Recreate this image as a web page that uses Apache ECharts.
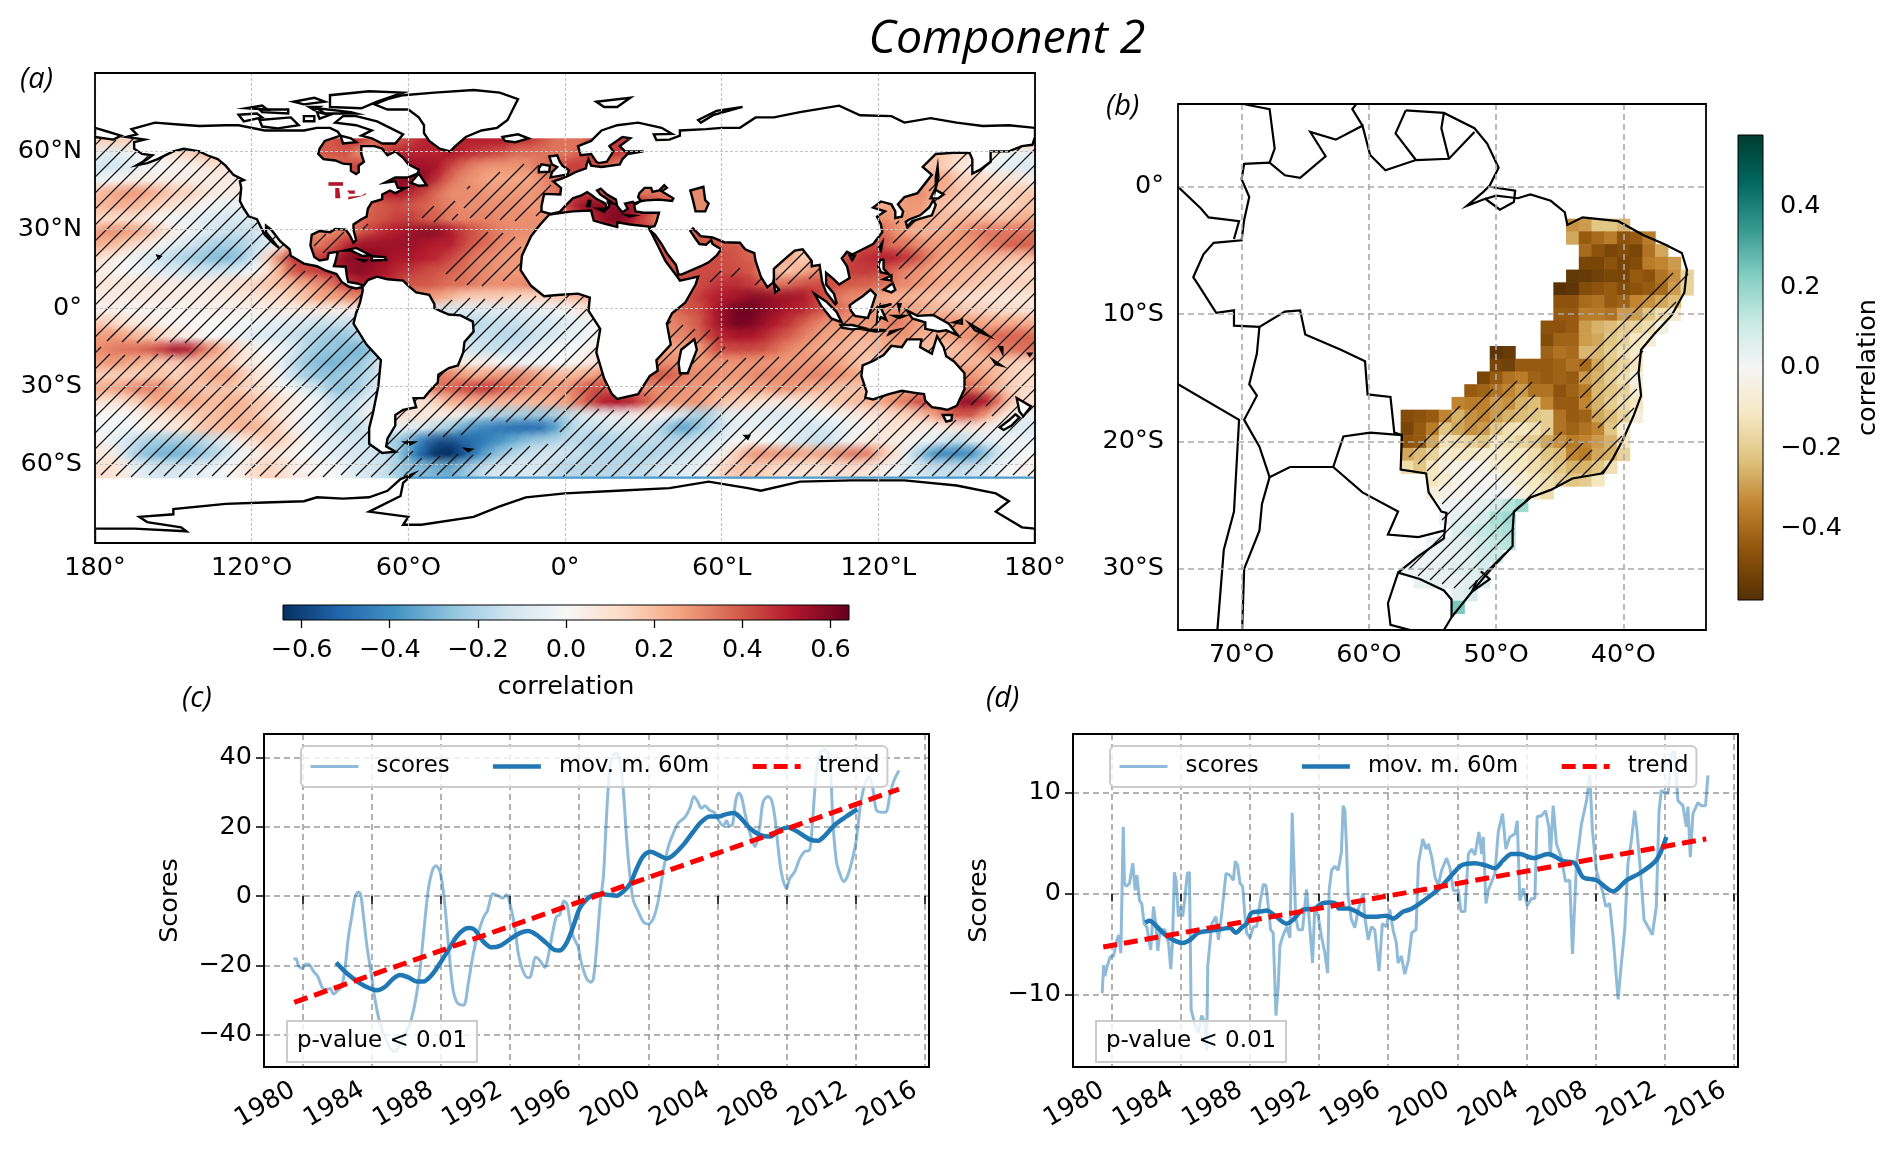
<!DOCTYPE html>
<html>
<head>
<meta charset="utf-8">
<style>html,body{margin:0;background:#fff}#main{width:1892px;height:1154px}</style>
<script src="https://cdn.jsdelivr.net/npm/echarts@6/dist/echarts.min.js"></script>
</head>
<body>
<div id="main"></div>
<script>
// correlation field of panel (a), hundredths, 5 degree cells, lon -177.5 .. 177.5
const n62=[15,15,15,10,10,10, 10,10,10,10,10,10, 10,10,10,20,35,40, 40,45,45,35,40,40, 45,50,50,50,50,50, 50,50,45,45,40,35, 35,35,45,45,45,40, 20,10,0,0,0,0, 0,0,0,0,0,0, 0,0,0,0,0,0, 10,10,15,15,15,15, 20,20,20,20,18,15];
const n57=[-5,-8,-5,0,5,8, 10,15,20,20,20,15, 15,15,20,30,35,40, 40,40,30,35,45,50, 50,50,50,52,48,45, 42,40,35,35,35,35, 35,40,45,45,45,40, 30,10,0,0,0,0, 0,0,0,0,0,0, 0,0,0,0,0,0, 10,15,20,20,20,15, 12,8,5,0,-3,-5];
const n52=[-12,-12,-10,-5,-3,0, 2,2,5,8,10,10, 10,10,10,15,20,30, 35,40,45,48,52,55, 55,55,52,42,35,30, 28,28,28,30,35,40, 45,45,40,35,30,25, 10,5,0,0,0,0, 0,0,0,0,0,0, 0,0,5,5,10,10, 10,10,12,15,18,15, 8,5,0,-5,-8,-10];
const n47=[-3,0,3,5,5,5, 5,5,5,5,5,5, 5,5,5,5,5,5, 25,35,45,50,55,58, 58,55,45,35,30,28, 25,25,25,25,30,35, 40,45,35,35,35,35, 30,30,30,30,25,20, 0,0,0,0,0,0, 0,0,0,0,5,10, 10,10,15,25,25,25, 15,15,12,10,10,5];
const n42=[20,25,28,28,25,20, 15,15,10,5,5,5, 5,5,5,5,10,15, 25,35,45,50,50,52, 48,42,35,30,30,30, 28,28,28,28,30,35, 40,45,45,40,35,35, 35,35,35,30,30,25, 0,0,0,0,0,0, 0,0,0,5,10,15, 20,25,30,30,25,22, 18,15,15,15,15,18];
const n37=[20,22,22,20,15,12, 8,5,0,-3,-5,-5, -5,-5,0,5,10,20, 25,30,35,38,40,42, 40,38,35,32,30,30, 30,30,30,28,28,35, 45,55,58,58,58,52, 45,40,35,35,35,30, 0,0,0,0,0,0, 5,5,5,10,15,20, 25,25,28,28,20,18, 15,15,12,12,15,18];
const n32=[12,12,10,8,3,0, -3,-5,-8,-10,-12,-10, -8,-5,0,10,20,25, 30,33,36,40,42,45, 45,40,38,33,32,32, 32,30,30,30,30,30, 35,45,50,58,60,50, 40,30,30,30,30,20, 10,10,10,10,10,10, 10,15,20,25,30,30, 30,28,28,25,22,20, 22,22,22,20,22,25];
const n27=[28,30,28,25,18,10, 3,-3,-8,-12,-15,-15, -12,-8,10,25,30,30, 32,35,40,45,50,52, 55,58,58,52,45,40, 35,32,30,30,30,30, 30,30,40,50,50,45, 45,40,35,40,40,40, 35,30,20,15,10,10, 10,15,20,25,30,35, 38,30,25,22,22,25, 28,32,35,35,35,35];
const n22=[22,20,15,8,3,-3, -8,-12,-18,-22,-22,-20, -15,-8,5,25,35,35, 40,50,55,55,55,55, 55,52,50,50,42,38, 35,30,28,28,28,28, 28,28,28,28,35,45, 45,40,38,40,40,40, 40,40,35,30,25,25, 15,20,25,35,40,42, 42,35,35,30,28,28, 28,28,32,35,38,38];
const n17=[8,5,0,-5,-10,-15, -18,-22,-25,-28,-28,-22, -10,15,35,48,45,45, 50,58,58,58,55,52, 52,50,48,42,38,32, 30,28,28,28,28,28, 30,30,30,30,30,40, 42,42,42,42,42,42, 42,40,38,35,25,25, 15,20,30,40,45,48, 50,50,45,38,30,25, 25,25,22,20,18,18];
const n12=[5,3,0,-3,-5,-8, -10,-12,-12,-12,-10,-5, 0,12,25,40,42,45, 50,55,58,55,52,48, 45,42,40,38,35,32, 30,28,28,28,28,30, 30,30,32,33,33,35, 35,38,40,42,42,42, 42,42,40,30,20,18, 25,30,40,45,45,45, 42,35,30,28,25,22, 22,20,18,15,12,12];
const n07=[8,8,8,8,8,6, 5,5,5,8,10,12, 15,18,20,22,25,30, 35,45,50,50,48,42, 40,40,38,35,35,32, 30,30,30,32,32,32, 35,35,35,35,35,35, 35,38,42,42,42,45, 48,48,45,40,35,38, 42,42,42,40,38,38, 35,32,30,28,25,22, 20,18,15,15,15,15];
const n02=[5,5,5,5,5,5, 5,5,5,5,5,8, 8,10,12,15,20,25, 25,28,30,30,30,30, 30,28,25,20,15,15, 15,15,12,12,12,15, 18,20,25,25,25,28, 30,35,35,40,45,50, 52,55,58,58,55,55, 52,45,38,32,30,28, 25,22,22,20,18,15, 12,10,10,8,8,8];
const s02=[3,3,2,2,2,2, 2,2,3,3,3,3, 3,5,5,5,5,5, 3,3,0,0,0,0, -3,-8,-10,-10,-8,-8, -8,-8,-8,-8,-5,-3, 0,5,10,15,20,20, 25,30,35,40,42,50, 58,63,63,58,55,50, 48,42,38,35,30,28, 28,28,28,25,22,20, 18,15,15,12,12,10];
const s07=[18,15,10,8,5,3, 2,0,0,0,0,-3, -3,-5,-8,-10,-12,-15, -15,-15,-15,-15,-12,-12, -12,-12,-15,-18,-18,-18, -15,-15,-15,-12,-12,-10, -8,-5,0,5,15,20, 25,28,32,35,40,50, 58,62,60,55,50,45, 38,32,28,28,28,28, 30,35,30,25,28,30, 28,28,25,25,25,25];
const s12=[28,28,26,22,18,12, 8,5,2,0,-2,-5, -8,-10,-12,-15,-18,-22, -25,-25,-18,-15,-15,-15, -15,-15,-15,-15,-15,-15, -15,-18,-18,-15,-12,-10, -5,-5,0,10,20,25, 28,30,30,32,38,45, 50,52,52,48,42,38, 32,28,25,25,22,22, 25,28,28,22,22,25, 28,30,35,38,38,38];
const s17=[30,33,35,36,40,46, 55,50,35,28,18,10, 3,0,-3,-10,-20,-25, -25,-28,-30,-25,-10,-5, -5,-8,-5,-8,-10,-12, -15,-15,-12,-10,-5,0, 0,0,5,10,20,25, 25,25,25,25,25,38, 42,42,42,40,35,30, 28,25,22,22,20,20, 22,25,25,20,18,18, 20,22,28,32,35,35];
const s22=[25,28,25,22,18,15, 15,18,18,18,15,8, 5,3,-5,-18,-25,-28, -30,-28,-25,-15,-5,5, 10,22,15,10,5,5, 5,0,-3,-3,-2,0, 0,5,10,15,25,30, 30,30,30,30,28,28, 28,28,28,28,28,28, 28,28,28,25,20,15, 12,15,18,18,20,22, 22,22,20,18,15,12];
const s27=[15,15,15,15,18,18, 15,18,22,25,25,18, 10,5,-5,-15,-22,-25, -25,-22,-20,-15,0,15, 25,32,35,32,28,25, 28,30,32,30,25,22, 22,25,28,35,38,38, 38,40,38,32,30,30, 28,28,30,32,30,30, 30,32,30,28,25,22, 20,22,25,30,32,30, 30,28,25,20,15,12];
const s32=[25,25,28,32,32,28, 22,20,18,18,18,15, 12,8,2,-3,-8,-15, -25,-25,-20,-10,5,15, 22,28,35,38,42,45, 45,38,35,30,28,28, 30,38,42,40,35,30, 30,30,30,28,28,25, 22,25,25,25,28,28, 25,22,20,18,18,20, 22,25,25,28,30,35, 38,35,28,20,15,12];
const s37=[8,8,10,15,22,25, 25,25,22,20,22,22, 18,15,10,5,0,-5, -15,-15,-10,-5,5,10, 10,8,15,22,22,22, 22,20,20,20,22,22, 28,35,45,52,52,48, 38,30,28,28,28,22, 18,15,12,8,5,5, 8,10,15,18,20,22, 25,30,35,42,45,50, 55,58,50,32,15,10];
const s42=[0,0,0,2,8,10, 12,15,18,20,22,22, 18,12,8,3,-2,-8, -15,-15,-8,5,10,12, 10,8,5,5,-5,-15, -18,-22,-22,-25,-25,-22, -18,-10,-5,-3,-2,3, 5,0,-5,-15,-22,-18, -8,-5,-5,-8,-10,-8, -5,-3,0,3,5,8, 10,12,15,18,25,35, 40,38,25,12,5,-5];
const s47=[0,-3,-3,0,3,5, 8,12,18,20,20,22, 22,18,12,3,-5,-8, -12,-15,-15,-8,-5,-5, -8,-12,-18,-25,-35,-42, -45,-48,-50,-50,-48,-35, -20,-15,-15,-12,-12,-12, -12,-18,-30,-35,-25,-18, -10,-6,-5,-5,-5,-8, -10,-12,-10,-5,-3,3, 8,10,8,5,3,5, 5,5,3,-3,-8,-10];
const s52=[3,-5,-10,-18,-22,-24, -24,-22,-18,-12,-5,5, 12,15,15,8,0,-5, -8,-10,-12,-15,-20,-25, -35,-50,-58,-58,-52,-48, -42,-36,-30,-24,-20,-18, -16,-18,-20,-20,-18,-16, -16,-18,-18,-16,-12,-10, -5,0,3,0,-3,-8, -12,-15,-12,-5,3,8, 8,5,3,-3,-8,-15, -18,-12,-8,-5,-3,-3];
const s57=[8,5,-12,-22,-28,-30, -30,-28,-24,-18,-10,-3, 3,8,5,0,0,-5, -8,-10,-12,-12,-15,-25, -40,-55,-65,-65,-55,-42, -30,-22,-16,-14,-12,-12, -14,-16,-18,-18,-18,-20, -20,-18,-16,-14,-10,-5, 5,18,28,30,28,28, 25,25,28,32,35,32, 20,10,-8,-25,-40,-42, -42,-38,-25,-12,-5,0];
const s62=[10,10,5,-5,-10,-12, -10,-8,-5,-3,0,5, 12,15,12,5,3,0, 0,-5,-10,-12,-15,-22, -28,-28,-30,-32,-25,-18, -12,-10,-10,-10,-12,-16, -18,-18,-18,-18,-18,-16, -15,-12,-10,-8,-5,5, 15,18,18,15,12,8, 8,8,10,10,10,8, 3,-3,-8,-12,-15,-15, -15,-12,-8,-3,0,3];
const fieldRows=[n62,n57,n52,n47,n42,n37,n32,n27,n22,n17,n12,n07,n02,s02,s07,s12,s17,s22,s27,s32,s37,s42,s47,s52,s57,s62];

// correlation cells of panel (b), hundredths, 1 degree cells
const brazilLat=[-3,-4,-5,-6,-7,-8,-9,-10,-11,-12,-13,-13,-14,-15,-16,-17,-18,-19,-20,-21,-22,-23,-24,-25,-26,-27,-28,-29,-30,-31,-32,-33];
const brazilStart=[-44,-44,-43,-43,-44,-45,-45,-45,-46,-46,-50,-46,-50,-51,-52,-53,-57,-57,-57,-57,-57,-55,-55,-54,-54,-53,-55,-56,-57,-56,-53,-53];
const brazilValues=[
[-32,-30,-22,-22,-25],
[-28,-44,-40,-36,-46,-44,-36],
[-40,-46,-50,-48,-50,-38,-28],
[-50,-50,-46,-50,-48,-36,-34,-30],
[-55,-54,-52,-50,-50,-44,-46,-38,-32,-18],
[-57,-56,-48,-46,-44,-48,-46,-44,-40,-30,-18],
[-46,-46,-40,-38,-44,-42,-34,-32,-28,-24],
[-44,-44,-36,-36,-38,-30,-30,-22,-15,-8],
[-46,-46,-44,-30,-26,-24,-20,-18,-15,-5],
[-48,-42,-42,-30,-28,-22,-18,-12,-8],
[-56,-54],
[-42,-38,-40,-25,-25,-20,-15,-10],
[-50,-52,-44,-44,-44,-42,-38,-40,-28,-22,-18,-12],
[-50,-44,-38,-36,-42,-44,-42,-44,-30,-26,-20,-15,-5],
[-44,-42,-38,-34,-30,-38,-38,-46,-42,-36,-25,-22,-18,-8],
[-34,-36,-35,-30,-32,-26,-24,-34,-44,-44,-34,-26,-20,-15,-12],
[-48,-46,-44,-34,-26,-32,-34,-30,-26,-24,-22,-20,-38,-44,-42,-28,-24,-18,-6],
[-50,-44,-36,-22,-28,-32,-30,-22,-14,-12,-14,-20,-38,-42,-38,-34,-22,-8],
[-46,-44,-28,-14,-15,-18,-22,-12,-14,-18,-20,-28,-32,-36,-34,-30,-26,-12],
[-28,-24,-18,-10,-12,-12,-8,-10,-12,-12,-15,-22,-24,-34,-36,-28,-26,-18],
[-15,-22,-12,-6,-4,-2,-3,-8,-10,-12,-15,-18,-22,-26,-26,-22,-14],
[-12,-8,-3,-2,-1,0,-5,-8,-12,-15,-18,-22,-20,-12],
[-6,-4,-2,-1,1,2,-1,-5,-10,-15],
[1,2,3,4,8,14,18],
[2,4,5,8,16,18],
[6,10,12,14,16],
[2,3,5,6,10,12,14],
[1,2,3,4,6,8,10],
[1,2,3,4,5,6,8],
[3,4,3,3,5,6],
[5,8],
[24]];

// land outlines of panel (a), lon/lat
const northAmerica=[[-168,65.5],[-164,66.5],[-166,68.5],[-157,71],[-148,70.3],[-140,69.7],[-130,70],[-125,70],[-115,68],[-108,68],[-100,68],[-95,69],[-90,69],[-87,67.5],[-86,66],[-92,64],[-94,61],[-94.5,59],[-92.5,57],[-88,56.5],[-85,55.3],[-82,55],[-82,52.5],[-80,51.3],[-79,52],[-79,54.5],[-77,56],[-78,59],[-78,62],[-73,62],[-70,61],[-68,58.5],[-65,60],[-62,57.5],[-60,55],[-56,53],[-56.5,51.5],[-60,50],[-65,50],[-69,48],[-65,48.5],[-64,46],[-61,46],[-65,44],[-67,45],[-70,43.5],[-70,41.7],[-74,40.5],[-75.5,38],[-76,35],[-78,34],[-81,32],[-81,30],[-80,26],[-81,25],[-82.5,28],[-84,30],[-88,30.3],[-90,29],[-94,29.5],[-97,28],[-97.5,24],[-96,19.5],[-94,18.2],[-91,18.7],[-90.5,21],[-87,21.5],[-88,17.5],[-88.5,16],[-84,15.8],[-83.5,12],[-83,10],[-79.5,9.4],[-77.5,8.7],[-77.5,8],[-80,7.5],[-83,8.3],[-85.5,10],[-87.5,13],[-92,14.5],[-95,16],[-100,17],[-105,20],[-105.5,22.5],[-109,25.5],[-112.5,30],[-114.5,31.5],[-114.5,29],[-110.5,24],[-109.5,23],[-112,25],[-115,28],[-116.5,31],[-118,34],[-121,35],[-123,38],[-124.5,41],[-124,46],[-124.5,48.5],[-123,49],[-127,51],[-130,54.5],[-133,57],[-137,58.5],[-140,60],[-146,61],[-150,60],[-152,59],[-156,57],[-160,55.5],[-164,54.7],[-160,57],[-158,58.5],[-162,59],[-165,61],[-165,63.5],[-161,64.5]];
const southAmerica=[[-77.5,8],[-75.5,10.7],[-72,12],[-68,11],[-62,10.5],[-60,8.5],[-57,6],[-52,5],[-50,1.5],[-50,0],[-48,-1],[-44.5,-2.5],[-40,-2.8],[-35.3,-5.2],[-35,-9],[-38.5,-13],[-39,-17],[-41,-22],[-44.5,-23],[-48.5,-25.5],[-48.7,-28.5],[-52,-32],[-54,-34.5],[-58,-34.5],[-57,-38],[-62,-39],[-65,-41],[-65,-45],[-68,-50],[-68.5,-53],[-65,-55],[-70,-55.5],[-75,-52],[-75,-46],[-73.5,-40],[-71.5,-30],[-70.5,-20],[-76,-14],[-81,-6],[-80,-2],[-78.5,2],[-77.5,6.5]];
const africa=[[-6,35.8],[3,37],[10,37.3],[11,33.5],[15,32.3],[20,31],[20,32.8],[25,32],[32,31.2],[32.5,30],[35.5,24],[37,21],[38.5,18],[43,12],[44,10.5],[51,12],[50,9],[46,2],[41,-2],[39,-6],[40.5,-14],[35,-20],[35.5,-24],[32.5,-26],[28,-33],[20,-34.8],[18,-33],[15,-27],[12,-17],[13.5,-8],[9,-1],[9.5,4],[5,5.5],[-3,5],[-8,4.5],[-13,8.5],[-17,14.5],[-16.5,20],[-13,27.5],[-9.5,32]];
const eurasia=[[-9,37],[-5.5,36],[-2,36.8],[0,39],[3,42],[6,43],[8.5,44.4],[10.5,43],[12,41.8],[15.5,40],[16,38],[17,39],[16.5,40.5],[18.5,40],[16,41.8],[13.5,43.5],[12.3,45],[13.7,45.7],[16,43.5],[19.5,41.5],[20,39],[22,36.7],[24,38],[23,40],[26,40.7],[26.5,40],[29,41],[28,42.5],[28.5,44],[30.5,46],[33,46],[33.5,44.5],[36,45],[38,47],[39,46],[37,44.7],[41.5,42],[41,41],[36,41.5],[31,41.2],[29,40.9],[26.5,39.5],[27,37],[30,36.5],[36,36.5],[35,33],[34.3,31.3],[32.5,31],[32.5,29.8],[34.5,28],[37,24.5],[39,21],[42.5,16.5],[43.5,12.7],[45,13],[52,16],[55,17.5],[58,20],[59.8,22.5],[56.5,24.5],[56,26],[54,24.2],[51.5,24.5],[50,26.5],[48,29.5],[49,30.5],[52,27.5],[56.5,27],[61,25.2],[67,25],[69,22.5],[72.5,21],[73,18],[75,12],[77.5,8],[80,10],[80,15],[85,19.5],[88,22],[91,22.5],[94.5,18],[94.5,16],[97.5,16.5],[98.5,10],[100,6],[103.5,1.5],[104,2],[103,5.5],[100,9],[100,13.5],[103,11],[105,9],[109,11.5],[108,16],[106,19],[108,21.5],[110,20.5],[114,22.5],[118,24.5],[121.5,29],[121,32],[119.5,35],[122.5,37],[118,38.5],[121,40.8],[125,39.7],[126.5,37],[126.5,34.5],[129,35],[129.5,37],[127.5,39.7],[130,42.5],[135,44],[140.5,51],[137,54],[142,59],[150,59.5],[155,59.3],[156,57],[156,51.5],[159,53],[163,56],[163,60],[170,60],[175,62],[179,62.5],[180,65.5],[180,69],[170,70],[160,69.7],[150,71],[140,72.7],[130,71],[125,73.5],[113,73.8],[105,77.5],[90,75],[80,73],[73,73],[67,69],[60,69],[54,68.5],[44,68],[44,66],[40,64.5],[35,64.3],[34,66.5],[41,66.7],[37,69],[28,71],[20,70],[14,68],[10,64],[5,62],[6,58.5],[10,59],[12,56],[13,55.5],[16,56],[18.5,60],[17,62],[22,65.5],[25,65],[21,62],[23,60],[30,60],[24,59],[22,57],[21,55],[14,54],[10,54.5],[9,57],[8.3,55],[8,53.5],[4,52],[1,50.5],[-1.5,49.5],[-4.5,48.5],[-1.5,46],[-1.8,43.5],[-8,43.7],[-9,39]];
const chukotka=[[-180,69],[-175,67.5],[-170,66],[-173,64.5],[-180,65.5]];
const greenland=[[-73,78],[-68,80],[-62,81.5],[-50,82.5],[-35,83.5],[-25,82.5],[-18,80],[-20,76],[-22,72],[-26,69],[-32,68],[-38,65.5],[-42,62],[-44,60],[-48,61],[-52,64],[-54,67],[-54,70],[-56,73],[-60,76],[-68,76]];
const australia=[[114,-22],[113.5,-26],[115.5,-32],[115,-34.3],[118,-35],[124,-33],[129,-31.7],[134,-32.5],[137.5,-33],[138,-35.5],[140.5,-38],[144,-38.5],[146.5,-39],[150,-37.5],[153,-31],[153,-25],[149,-20.5],[146,-18.5],[145,-15],[142.5,-10.8],[141.5,-14],[140.5,-17.5],[136,-15],[136.5,-12],[131,-12],[129,-15],[125,-14.5],[122,-18],[118,-20.3]];
const antarctica=[[-180,-84.5],[-165,-84.5],[-145,-85.5],[-147,-84],[-160,-82],[-163,-80],[-150,-79],[-150,-77],[-130,-75],[-115,-74.5],[-100,-74],[-95,-72.5],[-85,-73],[-75,-72.5],[-68,-70],[-63,-65.5],[-58,-63.5],[-62,-67],[-63,-72],[-75,-78],[-60,-80],[-62,-83],[-55,-83],[-35,-80],[-25,-76],[-15,-72.5],[0,-71],[20,-70],[40,-69],[55,-66.5],[70,-69],[75,-70],[90,-66.5],[110,-66],[130,-66],[150,-68],[165,-71],[170,-74],[165,-78],[175,-84],[180,-84.5],[180,-91],[-180,-91]];
const islands=[
[[-80,73.5],[-72,71.5],[-67,69],[-62,66.5],[-65,63],[-70,63],[-74,65],[-78,66],[-74,68],[-80,70],[-88,71],[-85,73.5]],
[[-117,72],[-105,73],[-102,70],[-110,68.8],[-116,69.5]],
[[-90,77],[-78,76.5],[-72,79],[-62,82.5],[-75,83],[-90,81.5]],
[[-95,76.5],[-82,75],[-80,74.5],[-92,74.5]],
[[-125,74],[-118,74.5],[-116,73],[-123,71.5]],
[[-117,76],[-106,76],[-106,74.5],[-116,75]],
[[-100,73.5],[-96,73.5],[-96,71.5],[-100,71.5]],
[[-95,75],[-90,74],[-94,72.5]],
[[-104,79],[-96,80.5],[-92,79],[-100,78]],
[[-98,77],[-94,77],[-96,75.8]],
[[-122,76.5],[-116,77.5],[-114,76]],
[[-86,66],[-82,65],[-80,63.5],[-85,63]],
[[-59,48],[-56,51.5],[-53,47],[-56,46.8]],
[[-84.5,22],[-80,23],[-74.5,20.2],[-77.5,19.9],[-82,22]],
[[-74,19.8],[-69,19.5],[-68.5,18.4],[-74,18.2]],
[[-78.3,18.4],[-76.3,18.2],[-77,17.8]],
[[-156,20],[-155,19.7],[-155.6,19.1]],
[[-24,65.5],[-18,66.5],[-14,65],[-19,63.5],[-23,64]],
[[-5.5,50],[1,51.2],[1.5,52.8],[-1,54.5],[-2,56],[-3,58.5],[-6,58],[-5,55],[-3,54],[-5,52]],
[[-10,52],[-6,52.2],[-5.8,54.5],[-9,55],[-10,53.5]],
[[12,79],[25,80.5],[20,77],[15,77]],
[[52,71],[57,74],[68,77],[58,75.5],[51,72]],
[[9,41],[9.7,41],[9.5,39],[8.5,39]],
[[12.5,38],[15.5,38],[15,36.8]],
[[23.5,35.5],[26,35.3],[24.5,35]],
[[49.5,-12],[50.5,-16],[47,-25],[44,-25],[43.5,-21],[44.5,-16]],
[[80,9.5],[82,7],[80.5,6]],
[[130.5,33],[132,34],[136,35.5],[139.5,38.5],[141,41.3],[142,39.5],[140.5,35.5],[137,34.5],[133,33.3],[131,31.2]],
[[140,42],[141.7,45.4],[145,43.5],[143,42]],
[[142,46],[143,50],[142.7,54],[142,50]],
[[120.2,23],[121.5,25],[121,22]],
[[109,20],[111,20],[110,18.3]],
[[120,16],[120.7,18.5],[122,18.5],[122,15],[124,13],[121,13.7]],
[[122,7],[125.5,9.5],[126.5,7],[125,6]],
[[122,11],[125,12.5],[125,10.5]],
[[109,1],[111,2.5],[114,4.5],[117,7],[119,5],[117.7,1],[116,-3.8],[111,-3],[109.5,-1]],
[[95.5,5.5],[100,2.5],[104,-1.5],[106,-5.5],[102,-4],[98,1]],
[[105.5,-6.5],[110,-6.5],[114.5,-7.7],[110,-8.2],[106,-7.5]],
[[119.5,-5.5],[120,0.5],[125,1.5],[121,0],[123,-4.5],[121,-3.5]],
[[127.5,1.5],[128.5,1.5],[128,-0.5]],
[[126,-3],[130,-3],[128,-3.8]],
[[131,-1],[135,-3],[141,-2.7],[147,-6],[150.5,-10.5],[146,-8.5],[143,-9],[138,-8],[138,-5.5],[133,-4]],
[[149,-5.5],[152,-4.5],[152,-6]],
[[155,-6],[160,-9],[162,-10.5],[157,-8.5]],
[[166.5,-15],[167.5,-15],[167.5,-17]],
[[164,-20],[167,-22],[165,-21.5]],
[[177.5,-17.5],[178.5,-17.5],[178,-18.2]],
[[124,-10],[127,-8.5],[124.5,-9]],
[[116,-8.5],[120,-8.3],[123,-8.5],[119,-9]],
[[144.7,-41],[148.2,-41],[148,-43],[146,-43.5]],
[[173,-34.5],[178.5,-37.7],[175.5,-41.5],[174,-39.5]],
[[172.5,-40.7],[174,-42],[171,-45],[168,-46.7],[166.5,-45.7],[170,-43]],
[[69,-49],[70.5,-49],[70,-50]],
[[-61,-51.5],[-58,-51.5],[-59.5,-52.3]],
[[-38,-54],[-36,-54.2],[-37,-54.8]]];
const caspian=[[48,45],[53,46.4],[53.7,41.3],[55,40],[53.7,37],[50,37],[49,41.3]];
const greatLakes=[[[-90.6,48.2],[-85,48.2],[-85,46.8],[-90.6,46.8]],[[-88,46],[-86.5,46],[-86,42],[-88,42]],[[-83.5,45],[-80.5,45],[-80.5,43.8],[-82.5,43.8]],[[-83,42.6],[-78,43],[-76.3,44],[-76.3,43.4],[-79,42.5],[-83,41.6]]];
const polarMasks=[[[-180,65],[180,65],[180,91],[-180,91]],[[-180,-65.3],[180,-65.3],[180,-91],[-180,-91]]];
const southEdge=[[-60,-65],[180,-65]];

// hatched regions of panel (a)
const hatchMain=[[-180,64],[-125,64],[-105,24],[-92,13],[-84,8],[-78,8],[-72,0],[-50,1],[-45,3],[-35,3],[-20,4],[-5,4],[10,4],[40,-5],[47,-8],[58,-9],[60,-14],[62,-20],[72,-19],[84,-20],[95,-8],[106,-2],[118,0],[128,5],[131,6],[126,20],[124.5,23],[126,32],[135,38],[142,50],[149,59],[164,63],[180,64],[180,-65],[-180,-65]];
const hatchAtlantic=[[-38,46],[-17,55],[-8,54],[-5,42],[-8,36],[-15,33],[-35,33],[-40,38]];
const hatchSargasso=[[-57,37],[-43,40],[-40,33],[-55,32]];
const hatchTropic=[[-47,13],[-31,28.5],[-20,28.5],[-15,15.7],[-27,8],[-41,8]];
const hatchGulf=[[-97,28],[-83,28],[-88,22],[-97,19]];
const hatchFlorida=[[-79,29],[-71,36],[-69,34],[-77,28]];
const hatchArabian=[[53,10],[58,15],[60,14],[56,9]];
const hatchArabian2=[[62,11],[66,14.5],[68,13],[64,10]];
const hatchArabian3=[[70,9],[76,16],[78,10],[74,6]];
const hatchBengal=[[80,10],[84,22],[98,24],[100,12],[92,10],[88,7]];
const hatchHoles=[
[[13,-33],[30,-33],[30,-40],[13,-40]],
[[139,-38],[163,-38],[163,-44],[139,-44]],
[[-60,-50],[-35,-49],[-30,-44],[-3,-44],[-3,-52],[-30,-56],[-58,-58]],
[[-104,20],[-93,15],[-95,12],[-104,14]],
[[-178,-13],[-146,-14],[-146,-19],[-178,-18]]];

// borders of panel (b), lon/lat
const brazilCoast=[[-57.1,6],[-54.1,5.8],[-51.7,4.6],[-50.7,3.4],[-49.8,1.5],[-50.5,0.1],[-51,-0.4],[-52.3,-1.5],[-51,-1],[-50,-0.7],[-48.3,-0.9],[-47.3,-0.6],[-45.7,-1.1],[-44.6,-2],[-44.4,-3],[-43.2,-2.4],[-40.4,-2.7],[-38.4,-3.8],[-36.8,-4.5],[-35.4,-5.2],[-35,-6.5],[-35.2,-8.3],[-36.2,-10.1],[-37.6,-11.6],[-38.6,-12.8],[-38.8,-14.6],[-38.6,-16.4],[-39.2,-18],[-40,-19.8],[-40.8,-21.3],[-41.6,-22.5],[-44,-22.9],[-45.7,-23.8],[-47.3,-24.4],[-48.6,-25.5],[-48.7,-27],[-48.7,-28.2],[-50.1,-29.7],[-50.9,-30.6],[-51.9,-31.8],[-53.5,-33.8],[-54.1,-34.8]];
const marajo=[[-50.5,0],[-48.5,-0.3],[-48.6,-1.2],[-49.7,-1.8],[-50.9,-0.9]];
const patos=[[-51.2,-30.2],[-50.5,-30.8],[-51.9,-31.8],[-51.5,-30.9]];
const uruguayLine=[[-53.5,-33.8],[-53.5,-32.4],[-54.1,-31.7],[-56,-30.8],[-57.7,-30.3],[-58.5,-32.7],[-58.3,-34.4],[-56,-35]];
const brazilWest=[[-57.7,-30.3],[-56.1,-29],[-54.1,-27.6],[-53.9,-25.6],[-54.3,-25.5],[-55.3,-24],[-55.5,-22.5],[-57.5,-22.2],[-57.4,-19.5],[-58,-19.3],[-58.3,-16.5],[-60.1,-16.3],[-60.3,-13.7],[-62.2,-12.8],[-65,-11.6],[-65.4,-9.7],[-66.6,-9.8],[-68.6,-11],[-70.6,-10.9],[-70.6,-9.7],[-72,-9.9],[-73.4,-7.7],[-73.8,-7.1],[-73,-5.3],[-72.2,-4.4],[-70,-4.2],[-69.8,-2.6],[-69.4,-0.8],[-70,0.6],[-69.8,1.8],[-67.8,1.9],[-66.6,0.9],[-65.4,0.7],[-63.4,2.4],[-64.6,4.3],[-62.6,3.7],[-60.5,4.8],[-59.9,2.5],[-58.7,1.3],[-56.3,2.1],[-53.7,2.2],[-51.7,4.3]];
const guyanaEast=[[-60.5,4.8],[-61.3,6.1],[-60.9,6.6]];
const guyanaWest=[[-56.3,2.1],[-57.9,4.2],[-57.1,6]];
const surinameEast=[[-53.7,2.2],[-54.3,4.6],[-54.1,5.8]];
const colombiaEast=[[-67.8,1.9],[-67.4,3],[-67.8,6.1],[-69.4,6.4],[-72,7]];
const colombiaSouth=[[-75,0],[-73.2,-1.7],[-72.6,-2.4],[-70.2,-2.7],[-70.6,-4.1]];
const boliviaWest=[[-68.6,-11],[-68.8,-13.1],[-69.4,-15.5],[-68.8,-16.4],[-69.8,-18.3],[-68.6,-20.4],[-67.8,-22.8],[-66.2,-22],[-62.8,-22],[-62,-19.6],[-59.9,-19.3],[-57.4,-19.5]];
const paraguaySouth=[[-62.8,-22],[-60.5,-24],[-57.7,-25.5],[-58.5,-27.3],[-56.1,-27.5],[-54.1,-27]];
const chileEast=[[-67.8,-22.8],[-68.4,-24.9],[-68.6,-27],[-69.8,-30],[-70,-36]];
const pacificCoast=[[-76,-14.8],[-75,-15.5],[-70.2,-18.3],[-70.6,-25.5],[-71.4,-28.5],[-72,-36]];
const southAmericaLines=[brazilCoast,marajo,patos,uruguayLine,brazilWest,guyanaEast,guyanaWest,surinameEast,colombiaEast,colombiaSouth,boliviaWest,paraguaySouth,chileEast,pacificCoast];

// hatched regions of panel (b)
const hatchNortheast=[[-35.4,-6.5],[-34.8,-7.6],[-37.8,-11.6],[-38.5,-12.8],[-39,-16.4],[-40,-19.5],[-42.2,-18.9],[-43.4,-17],[-43.6,-13.7],[-41.6,-11.6],[-39.2,-9.1],[-37.2,-7.4]];
const hatchSouth=[[-57.3,-21.3],[-53.7,-17.7],[-49.3,-15.4],[-47.3,-15.5],[-46.5,-18.6],[-42.4,-20.7],[-40,-19.6],[-41.6,-22.5],[-45.7,-23.7],[-48.1,-24.9],[-48.7,-26.7],[-48.7,-27.9],[-50.5,-30.3],[-52.1,-31.8],[-53.7,-31.5],[-56.1,-30.6],[-57.3,-30],[-54.5,-27.6],[-54.1,-25.2],[-55.7,-22.2]];

// panel (c) series
const scoresCYears=[1979.46,1979.61,1979.75,1980,1980.13,1980.33,1980.62,1980.85,1981.1,1981.29,1981.58,1981.77,1982.06,1982.25,1982.45,1982.64,1982.83,1983.03,1983.22,1983.35,1983.51,1983.74,1983.93,1984.18,1984.47,1984.82,1985.14,1985.34,1985.53,1985.82,1986.2,1986.49,1986.78,1987.01,1987.26,1987.51,1987.71,1987.94,1988.17,1988.42,1988.67,1988.9,1989.19,1989.33,1989.58,1989.87,1990.15,1990.48,1990.67,1991.02,1991.31,1991.56,1991.79,1991.98,1992.27,1992.47,1992.76,1993.04,1993.18,1993.49,1993.72,1994.01,1994.2,1994.49,1994.68,1994.87,1995.11,1995.3,1995.45,1995.65,1995.93,1996.13,1996.42,1996.67,1996.82,1997.01,1997.21,1997.4,1997.59,1997.78,1997.98,1998.17,1998.36,1998.55,1998.75,1998.94,1999.13,1999.42,1999.71,2000,2000.29,2000.58,2000.87,2001.16,2001.45,2001.73,2002.12,2002.41,2002.64,2002.83,2003.08,2003.28,2003.53,2003.85,2004.05,2004.34,2004.53,2004.68,2004.87,2005.07,2005.24,2005.39,2005.59,2005.88,2006.17,2006.45,2006.65,2006.94,2007.13,2007.32,2007.51,2007.71,2008,2008.19,2008.48,2008.77,2009.06,2009.34,2009.5,2009.73,2010.02,2010.31,2010.54,2010.69,2010.89,2011.08,2011.31,2011.56,2011.85,2012.04,2012.27,2012.52,2012.77,2013.01,2013.2,2013.49,2013.78,2013.97,2014.2,2014.51];
const scoresCValues=[-18.2,-18.1,-20.2,-20.9,-19.7,-19.7,-21.8,-23.1,-26.2,-27,-26.7,-28.3,-27.1,-26.2,-20.4,-11.7,-5.9,-0.1,1.2,0.4,-5.9,-15.6,-21.4,-30,-36.8,-41.6,-44.5,-45,-43.6,-40.7,-36.8,-31,-21.4,-9.8,1.8,7.6,8.8,7.1,-0.1,-13.6,-26.2,-30.5,-31.5,-31.5,-25.2,-16.5,-10.7,-5.9,-4.4,0.7,0.1,-0.6,0.4,-2,-8.8,-16.5,-21.8,-23.6,-23.3,-17.7,-18.6,-20.6,-17.5,-9.8,-5.9,-5.4,-1.4,-2.5,-6.9,-11.7,-14.6,-19.4,-23.8,-24.9,-23.9,-14.7,-2.1,5.6,24,37.5,40.9,41.2,38.9,30.7,16.2,5.6,-1.2,-4.5,-7.4,-8.1,-6.5,-1.2,7.5,14.3,18.2,21.1,22.8,25.4,28.8,27.6,25.4,26.1,24.9,24,22,20.3,21.8,20.3,20.6,27.8,29.8,28.8,24,18.2,14.3,20.1,27.3,28.8,27.8,23,14.3,6.6,2.2,5.1,7.1,10.9,12.9,13.3,21.1,35.6,41.8,42.3,36.5,21.1,10,6.6,4.2,6.1,11.4,16.2,25.9,32.2,34.6,30.7,24.9,24.2,24.4,28.8,33.1,36.3];
const movCYears=[1981.93,1982.54,1983.31,1983.89,1984.28,1984.76,1985.24,1985.63,1986.11,1986.59,1986.97,1987.46,1987.94,1988.42,1988.9,1989.38,1989.67,1989.96,1990.44,1990.92,1991.41,1991.98,1992.56,1993.04,1993.53,1994.1,1994.59,1994.87,1995.26,1995.65,1996.03,1996.51,1996.9,1997.21,1997.78,1998.17,1998.55,1998.94,1999.33,1999.71,2000.15,2000.58,2001.06,2001.45,2002.02,2002.6,2003.08,2003.56,2004.05,2004.53,2004.95,2005.3,2005.88,2006.45,2007.03,2007.61,2008.09,2008.57,2009.34,2009.83,2010.21,2010.79,2011.46,2012.1];
const movCValues=[-19.2,-22.3,-25.2,-26.7,-27.2,-26.2,-23.8,-22.8,-23.5,-24.7,-24.7,-22.8,-19.4,-15.6,-11.7,-9.5,-9.2,-9.8,-13.1,-14.8,-14.4,-12.5,-10.7,-10.1,-11.2,-13.6,-15.6,-15.7,-13.6,-8.8,-3.5,-0.6,0.4,0.6,0.3,0.1,1.3,3.5,8,11.6,12.8,11.9,10.9,11.9,14.8,18.6,21.5,23,23,23.7,24,22.8,19.6,17.7,17.2,19.1,19.8,18.8,16.4,16,17.4,20.6,23,25.1];
const trendCYears=[1979.5,2014.51];
const trendCValues=[-30.7,30.9];

// panel (d) series
const scoresDYears=[1979.44,1979.52,1979.6,1979.71,1979.81,1979.9,1980.1,1980.25,1980.39,1980.52,1980.66,1980.73,1980.83,1981.02,1981.21,1981.35,1981.45,1981.6,1981.73,1981.87,1982.02,1982.25,1982.41,1982.54,1982.66,1982.79,1983.08,1983.28,1983.41,1983.51,1983.62,1983.72,1983.85,1983.99,1984.1,1984.24,1984.37,1984.49,1984.59,1984.82,1985.01,1985.2,1985.39,1985.49,1985.55,1985.68,1985.78,1986.03,1986.17,1986.36,1986.61,1986.84,1987.03,1987.15,1987.28,1987.42,1987.57,1987.71,1987.8,1988,1988.19,1988.38,1988.57,1988.77,1988.92,1989.06,1989.19,1989.34,1989.5,1989.63,1989.73,1989.88,1990.12,1990.31,1990.44,1990.54,1990.64,1990.79,1991.04,1991.27,1991.41,1991.62,1991.75,1991.95,1992.14,1992.33,1992.49,1992.58,1992.72,1992.91,1993.1,1993.29,1993.39,1993.49,1993.58,1993.68,1993.87,1994.07,1994.26,1994.55,1994.64,1994.84,1995.03,1995.22,1995.47,1995.66,1995.9,1996.09,1996.28,1996.47,1996.57,1996.76,1996.96,1997.17,1997.36,1997.61,1997.75,1998,1998.19,1998.32,1998.52,1998.71,1998.9,1999.09,1999.38,1999.58,1999.77,2000.06,2000.21,2000.44,2000.64,2000.83,2001.02,2001.25,2001.41,2001.5,2001.66,2001.79,2002.18,2002.37,2002.62,2002.81,2003.04,2003.33,2003.47,2003.62,2003.82,2004.05,2004.3,2004.49,2004.62,2004.87,2005.11,2005.3,2005.39,2005.55,2005.74,2006.03,2006.26,2006.51,2006.67,2006.9,2007.19,2007.48,2007.67,2007.82,2008.05,2008.44,2008.59,2008.82,2009.02,2009.31,2009.5,2009.69,2009.88,2010.08,2010.27,2010.4,2010.6,2010.81,2011.04,2011.29,2011.52,2011.68,2011.81,2012.2,2012.39,2012.58,2012.77,2013.06,2013.26,2013.35,2013.49,2013.64,2013.93,2014.12,2014.37,2014.51];
const scoresDValues=[-9.9,-7.1,-8.2,-7.3,-7.4,-6.3,-6.2,-4.9,-4.1,-5.9,6.6,1,0.7,1,3,0.3,1.8,-0.7,-1,-3,-3.3,-5.6,-1.3,-3,-5.7,-3.6,-3.6,-4.9,-7.5,-4.9,2.1,1.3,-2.3,-1.3,-2.3,-0.3,2,2.1,-11.5,-13.1,-13.8,-12.1,-12.8,-15.6,-7.2,-4.9,-3,-2.3,-4.6,-2,2,1.8,1.3,3.2,2.8,1,0.7,-2.3,-3.9,-4.4,-3.3,-3.3,-1,0.9,0.8,-1.3,-3.6,-3.9,-12.1,-9.2,-5.2,-4.3,-3.3,-4.4,8,3,-2.3,-3.6,-3.6,0.4,-2.3,-6.9,-1.3,-2.3,-4.3,-5.9,-7.9,0.3,2.3,2.7,2.3,4.1,8.7,8.2,4.8,-0.3,-2.6,-3.4,-1.6,0,-2.3,-4.6,-3.3,-3.6,-7.7,-3,-3.3,-1.6,-3.6,-4.9,-6.9,-6.2,-8,-6.6,-3.9,-3.6,3,5.4,4.4,4.9,3.6,1.6,0.8,2.3,3.5,2.5,0.3,0.3,-1.8,-1.8,3.9,4.4,3.8,6.1,3.9,5.6,-1,0.3,2,6.1,7.9,4.4,5.6,5.9,7.2,-0.7,0.5,-1.2,-0.5,-0.5,7.6,7.7,8.2,6.6,3.6,8.7,4.9,3.5,1.2,1.3,-6,3,6.9,9.2,11.8,6.3,2.3,0,-1.3,-1,-4.3,-10.5,-6.9,-3.6,3,5.3,8.2,6.3,2.3,-2.6,-3.3,-4.1,-1.3,8.2,10.2,9.9,13.8,14.1,9.2,8.7,6.6,8.6,3.6,7.9,9,8.7,8.7,11.7];
const movDYears=[1981.93,1982.18,1982.5,1983.08,1983.66,1984.1,1984.53,1985.01,1985.68,1986.45,1986.84,1987.17,1987.51,1987.8,1988.09,1988.57,1988.96,1989.44,1990.12,1990.5,1991.08,1991.75,1992.14,1992.62,1992.97,1993.16,1993.68,1994.16,1994.74,1995.32,1995.9,1996.28,1996.86,1997.24,1997.65,1998.61,1999.19,1999.77,2000.25,2001.02,2001.6,2002.18,2002.66,2003.14,2003.62,2004.39,2005.26,2006.13,2006.8,2007.28,2008.05,2009.02,2009.79,2010.56,2011.52,2012.1];
const movDValues=[-2.9,-2.7,-3.1,-4.1,-4.7,-4.9,-4.6,-3.9,-3.7,-3.5,-3.4,-3.9,-3.4,-3,-1.9,-1.8,-1.7,-2.2,-3,-2.6,-1.6,-1.5,-1,-0.9,-1,-1.5,-1.5,-1.8,-2.3,-2.3,-2.2,-2.5,-1.8,-1.6,-1.2,0,0.9,2,2.8,3,2.8,2.5,3.3,3.9,3.9,3.5,3.9,3.2,3,1.6,1.3,0.2,1.3,2,3.3,5.6];
const trendDYears=[1979.5,2014.41];
const trendDValues=[-5.3,5.4];

// tick labels
const yearTicks=[1980,1984,1988,1992,1996,2000,2004,2008,2012,2016];
const scoresCTicks=[-40,-20,0,20,40];
const scoresDTicks=[-10,0,10];
const rdBuColors=['#053061','#2166ac','#4393c3','#92c5de','#d1e5f0','#f7f7f7','#fddbc7','#f4a582','#d6604d','#b2182b','#67001f'];
const brBgColors=['#543005','#8c510a','#bf812d','#dfc27d','#f6e8c3','#f5f5f5','#c7eae5','#80cdc1','#35978f','#01665e','#003c30'];

const FONT='DejaVu Sans';
const minus=v=>String(v).replace('-','\u2212');
const zip=(xs,ys)=>xs.map((x,i)=>[x,ys[i]]);

const fieldData=[];
fieldRows.forEach((row,r)=>row.forEach((v,c)=>fieldData.push([-177.5+5*c,62.5-5*r,v/100])));
const brazilData=[];
brazilLat.forEach((lat,r)=>brazilValues[r].forEach((v,c)=>brazilData.push([brazilStart[r]+c,lat,v/100])));

const cellItem=cellSize=>(params,api)=>{
    const c=api.coord([api.value(0),api.value(1)]);
    const s=api.size([cellSize,cellSize]);
    return {type:'rect',shape:{x:c[0]-s[0]/2,y:c[1]-s[1]/2,width:s[0]+0.6,height:s[1]+0.6},style:{fill:api.visual('color')}};
};
// soft blobs on top of the cells so the 5 degree field does not look blocky
const softItem=(params,api)=>{
    const c=api.coord([api.value(0),api.value(1)]);
    const r=api.size([5,5])[0]*1.35;
    const col=api.visual('color');
    return {type:'circle',shape:{cx:c[0],cy:c[1],r:r},style:{fill:new echarts.graphic.RadialGradient(0.5,0.5,0.5,[
        {offset:0,color:echarts.color.modifyAlpha(col,0.95)},
        {offset:0.5,color:echarts.color.modifyAlpha(col,0.6)},
        {offset:1,color:echarts.color.modifyAlpha(col,0)}])}};
};
const ringSeries=(rings,axis,style)=>({
    type:'custom',xAxisIndex:axis,yAxisIndex:axis,clip:true,silent:true,z:2,
    data:rings.map((r,i)=>[0,0,i]),
    renderItem:(params,api)=>({type:'polygon',shape:{points:rings[params.dataIndex].map(p=>api.coord(p))},style:style})
});
const lineSeries=(paths,axis,stroke,width)=>({
    type:'custom',xAxisIndex:axis,yAxisIndex:axis,clip:true,silent:true,z:2,
    data:paths.map((r,i)=>[0,0,i]),
    renderItem:(params,api)=>({type:'polyline',shape:{points:paths[params.dataIndex].map(p=>api.coord(p))},style:{fill:null,stroke:stroke,lineWidth:width}})
});
const inside=(pt,ring)=>{
    let hit=false;
    for(let i=0,j=ring.length-1;i<ring.length;j=i++){
        const a=ring[i],b=ring[j];
        if((a[1]>pt[1])!==(b[1]>pt[1])&&pt[0]<(b[0]-a[0])*(pt[1]-a[1])/(b[1]-a[1])+a[0])hit=!hit;
    }
    return hit;
};
const hatchSeries=(regions,holes,axis)=>({
    type:'custom',xAxisIndex:axis,yAxisIndex:axis,clip:true,silent:true,z:2,
    data:[[0,0]],
    renderItem:(params,api)=>{
        const cs=params.coordSys;
        const rp=regions.map(r=>r.map(p=>api.coord(p)));
        const hp=holes.map(r=>r.map(p=>api.coord(p)));
        const on=p=>rp.some(r=>inside(p,r))&&!hp.some(r=>inside(p,r));
        const children=[];
        const stroke=(x1,y1,x2,y2)=>children.push({type:'line',shape:{x1,y1,x2,y2},style:{stroke:'#111',lineWidth:1.2}});
        for(let k=cs.x+cs.y+8;k<cs.x+cs.width+cs.y+cs.height;k+=16){
            let start=null;
            for(let x=cs.x;x<=cs.x+cs.width;x+=3){
                const y=k-x;
                const ok=y>=cs.y&&y<=cs.y+cs.height&&on([x,y]);
                if(ok&&start===null)start=x;
                if(!ok&&start!==null){stroke(start,k-start,x,k-x);start=null;}
            }
            if(start!==null)stroke(start,k-start,cs.x+cs.width,k-cs.x-cs.width);
        }
        return {type:'group',children};
    }
});
const colorbarSeries=(axis,colors,horizontal)=>({
    type:'custom',xAxisIndex:axis,yAxisIndex:axis,clip:false,silent:true,
    data:[[0,0]],
    renderItem:(params,api)=>{
        const cs=params.coordSys;
        const stops=colors.map((c,i)=>({offset:i/(colors.length-1),color:c}));
        const grad=horizontal?new echarts.graphic.LinearGradient(0,0,1,0,stops):new echarts.graphic.LinearGradient(0,1,0,0,stops);
        return {type:'rect',shape:{x:cs.x,y:cs.y,width:cs.width,height:cs.height},style:{fill:grad}};
    }
});
const label={fontFamily:FONT,fontSize:25.5,color:'#000'};
const panelTitle=(t,left,top)=>({text:t,left,top,textStyle:{fontFamily:'Open Sans',fontStyle:'italic',fontWeight:'normal',fontSize:29,color:'#000'}});
const frame=(left,top,width,height,bw)=>({left,top,width,height,show:true,z:8,borderColor:'#000',borderWidth:bw,backgroundColor:'transparent'});
const dashed=(color,w,dash)=>({show:true,lineStyle:{color,width:w,type:dash}});

const mapLonLabels={'-180':'180\u00b0','-120':'120\u00b0O','-60':'60\u00b0O','0':'0\u00b0','60':'60\u00b0L','120':'120\u00b0L','180':'180\u00b0'};
const latLabel=v=>v===0?'0\u00b0':Math.abs(v)+'\u00b0'+(v>0?'N':'S');

const legendFor=left=>({
    left,top:746,itemWidth:48,itemHeight:14,itemGap:41,padding:[9,8,9,8],
    backgroundColor:'rgba(255,255,255,0.8)',borderColor:'#ccc',borderWidth:2,borderRadius:5,
    itemStyle:{color:'transparent',borderColor:'transparent',borderWidth:0,opacity:0},
    data:[
        {name:'scores',lineStyle:{color:'#1f77b4',width:3,opacity:0.5}},
        {name:'mov. m. 60m',lineStyle:{color:'#1f77b4',width:4.5}},
        {name:'trend',lineStyle:{color:'#ff0000',width:5,type:[14,7]}}
    ],
    selectedMode:false,
    textStyle:{fontFamily:FONT,fontSize:22.8,color:'#000',padding:[0,0,0,13]}
});
const pBox=left=>({text:'p-value < 0.01',left,top:1021,padding:[9,10,9,10],borderColor:'#ccc',borderWidth:2,backgroundColor:'rgba(255,255,255,0.8)',
    textStyle:{fontFamily:FONT,fontSize:23,fontWeight:'normal',color:'#000'}});
const timeAxes=(gridIndex,ticks,ymin,ymax)=>({
    x:{type:'value',gridIndex,min:1977.75,max:2016.25,
        axisLine:{show:false},axisTick:{show:true,length:8,lineStyle:{color:'#000',width:1.5},customValues:yearTicks},
        axisLabel:{...label,rotate:30,margin:16,padding:[0,11,0,0],customValues:yearTicks,formatter:v=>String(v)},
        splitLine:dashed('#999',1.5,[6,4])},
    y:{type:'value',gridIndex,min:ymin,max:ymax,name:'Scores',nameLocation:'middle',nameGap:81,
        nameTextStyle:label,
        axisLine:{show:false},axisTick:{show:true,length:8,lineStyle:{color:'#000',width:1.5},customValues:ticks},
        axisLabel:{...label,margin:12,customValues:ticks,formatter:minus},
        splitLine:dashed('#999',1.5,[6,4])}
});
const timeSeries=(axis,sy,sv,my,mv,ty,tv,smooth)=>[
    {name:'scores',type:'line',xAxisIndex:axis,yAxisIndex:axis,symbol:'none',smooth,data:zip(sy,sv),color:'#1f77b4',lineStyle:{color:'#1f77b4',width:3,opacity:0.5}},
    {name:'mov. m. 60m',type:'line',xAxisIndex:axis,yAxisIndex:axis,symbol:'none',smooth:0.3,data:zip(my,mv),color:'#1f77b4',lineStyle:{color:'#1f77b4',width:4.5}},
    {name:'trend',type:'line',xAxisIndex:axis,yAxisIndex:axis,symbol:'none',data:zip(ty,tv),color:'#ff0000',lineStyle:{color:'#ff0000',width:5,type:[14,7]}}
];
const axC=timeAxes(4,scoresCTicks,-49.4,46.85);
const axD=timeAxes(5,scoresDTicks,-17.2,15.8);
const mapBTicksX=[-70,-60,-50,-40];
const mapBTicksY=[-30,-20,-10,0];
const cbarATicks=[-0.6,-0.4,-0.2,0,0.2,0.4,0.6];
const cbarBTicks=[-0.4,-0.2,0,0.2,0.4];

const option={
    animation:false,
    backgroundColor:'#fff',
    title:[
        {text:'Component 2',left:1002,top:11,textAlign:'center',textStyle:{fontFamily:'Open Sans',fontStyle:'italic',fontWeight:'normal',fontSize:46.5,color:'#000'}},
        panelTitle('(a)',15,60),panelTitle('(b)',1101,87),panelTitle('(c)',177,679),panelTitle('(d)',981,679),
        pBox(287),pBox(1096)
    ],
    legend:[legendFor(301),legendFor(1110)],
    visualMap:[
        {type:'continuous',show:false,min:-0.642,max:0.642,dimension:2,seriesIndex:[0,1],inRange:{color:rdBuColors}},
        {type:'continuous',show:false,min:-0.578,max:0.578,dimension:2,seriesIndex:[10],inRange:{color:brBgColors}}
    ],
    grid:[
        frame(95,73,940,470,1.8),
        frame(1178,104,528,526,1.8),
        frame(283,605,566,15,1),
        frame(1738,135,25,465,1),
        frame(264,734,665,333,2),
        frame(1073,734,665,333,2)
    ],
    xAxis:[
        {type:'value',gridIndex:0,min:-180,max:180,interval:60,z:5,axisLine:{show:false},axisTick:{show:false},
            axisLabel:{...label,margin:12,showMinLabel:true,showMaxLabel:true,formatter:v=>mapLonLabels[v]},
            splitLine:dashed('#c4c4c4',1.2,[3,2])},
        {type:'value',gridIndex:1,min:-75,max:-33.5,z:5,axisLine:{show:false},axisTick:{show:false,customValues:mapBTicksX},
            axisLabel:{...label,margin:12,customValues:mapBTicksX,formatter:v=>Math.abs(v)+'\u00b0O'},
            splitLine:dashed('#aaa',1.6,[6,4])},
        {type:'value',gridIndex:2,min:-0.642,max:0.642,axisLine:{show:false},
            axisTick:{show:true,length:8,lineStyle:{color:'#000',width:1.3},customValues:cbarATicks},
            axisLabel:{...label,margin:17,customValues:cbarATicks,formatter:v=>minus(v.toFixed(1))},
            splitLine:{show:false},name:'correlation',nameLocation:'middle',nameGap:54,nameTextStyle:label},
        {type:'value',gridIndex:3,min:0,max:1,show:false},
        axC.x,axD.x
    ],
    yAxis:[
        {type:'value',gridIndex:0,min:-90,max:90,interval:30,z:5,axisLine:{show:false},axisTick:{show:false},
            axisLabel:{...label,margin:13,formatter:v=>Math.abs(v)===90?'':latLabel(v)},
            splitLine:dashed('#c4c4c4',1.2,[3,2])},
        {type:'value',gridIndex:1,min:-34.8,max:6.5,z:5,axisLine:{show:false},axisTick:{show:false,customValues:mapBTicksY},
            axisLabel:{...label,margin:14,customValues:mapBTicksY,formatter:latLabel},
            splitLine:dashed('#aaa',1.6,[6,4])},
        {type:'value',gridIndex:2,min:0,max:1,show:false},
        {type:'value',gridIndex:3,min:-0.578,max:0.578,position:'right',axisLine:{show:false},
            axisTick:{show:true,length:8,lineStyle:{color:'#000',width:1.3},customValues:cbarBTicks},
            axisLabel:{...label,margin:17,customValues:cbarBTicks,formatter:v=>minus(v.toFixed(1))},
            splitLine:{show:false},name:'correlation',nameLocation:'middle',nameGap:92,nameRotate:90,nameTextStyle:label},
        axC.y,axD.y
    ],
    series:[
        {type:'custom',xAxisIndex:0,yAxisIndex:0,clip:true,silent:true,z:2,data:fieldData,encode:{x:0,y:1},renderItem:cellItem(5)},
        {type:'custom',xAxisIndex:0,yAxisIndex:0,clip:true,silent:true,z:2,data:fieldData,encode:{x:0,y:1},renderItem:softItem},
        hatchSeries([hatchMain,hatchAtlantic,hatchSargasso,hatchTropic,hatchGulf,hatchFlorida,hatchArabian,hatchArabian2,hatchArabian3,hatchBengal],hatchHoles,0),
        ringSeries(polarMasks,0,{fill:'#fff'}),
        lineSeries([southEdge],0,'#4f9bcb',2.2),
        ringSeries([northAmerica,southAmerica,africa,eurasia,chukotka,greenland,australia,antarctica].concat(islands),0,{fill:'#fff',stroke:'#000',lineWidth:2.4}),
        ringSeries([caspian],0,{fill:'#e58a6b',stroke:'#000',lineWidth:2.4}),
        ringSeries(greatLakes,0,{fill:'#b2182b'}),
        colorbarSeries(2,rdBuColors,true),
        colorbarSeries(3,brBgColors,false),
        {type:'custom',xAxisIndex:1,yAxisIndex:1,clip:true,silent:true,z:2,data:brazilData,encode:{x:0,y:1},renderItem:cellItem(1)},
        hatchSeries([hatchNortheast,hatchSouth],[],1),
        lineSeries(southAmericaLines,1,'#000',2.2),
        ...timeSeries(4,scoresCYears,scoresCValues,movCYears,movCValues,trendCYears,trendCValues,0.3),
        ...timeSeries(5,scoresDYears,scoresDValues,movDYears,movDValues,trendDYears,trendDValues,false)
    ]
};
const chart=echarts.init(document.getElementById('main'));
chart.setOption(option);
</script>
</body>
</html>
